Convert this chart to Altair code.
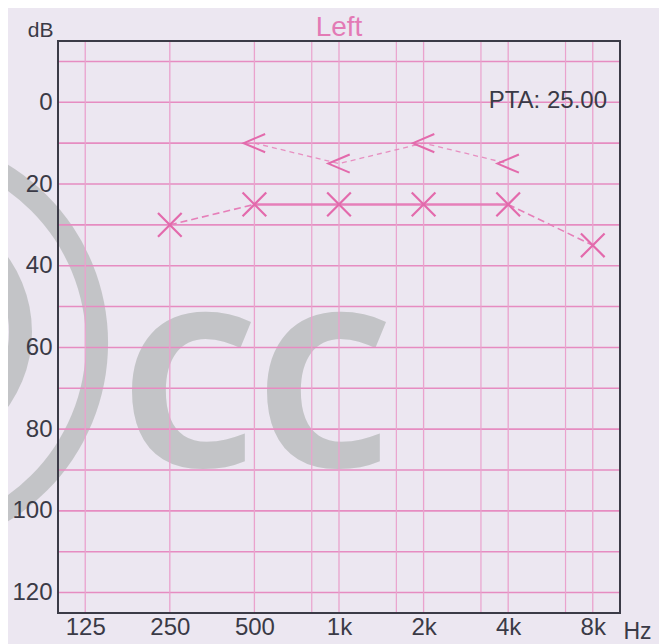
import altair as alt
import pandas as pd

# ---------------- data ----------------
ac_freq = [250, 500, 1000, 2000, 4000, 8000]          # air conduction (X)
ac_db = [30, 25, 25, 25, 25, 35]
ac_seg_style = ["dashed", "solid", "solid", "solid", "dashed"]
bc_freq = [500, 1000, 2000, 4000]                     # bone conduction (<)
bc_db = [10, 15, 10, 15]
pta_value = 25.00
ear_title = "Left"

x_tick_vals = [125, 250, 500, 1000, 2000, 4000, 8000]
x_tick_labels = ["125", "250", "500", "1k", "2k", "4k", "8k"]
x_minor_vals = [800, 1600, 3200, 6400]
y_tick_vals = [0, 20, 40, 60, 80, 100, 120]
y_grid_vals = [-10, 0, 10, 20, 30, 40, 50, 60, 70, 80, 90, 100, 110, 120]

# ---------------- styling ----------------
PINK = "#e36aac"
PINK_LINE = "#e67fb9"
GRID_H = "#e68cc1"
GRID_V = "#eaa2cd"
TEXT = "#3a3a46"
FONT = "Liberation Sans"
W, H = 562, 572

xscale = alt.Scale(type="log", domain=[100, 10000])
yscale = alt.Scale(domain=[-15, 125], reverse=True)

label_expr = " : ".join(
    f"datum.value == {v} ? '{l}'" for v, l in zip(x_tick_vals, x_tick_labels)
) + " : ''"

xaxis = alt.Axis(values=x_tick_vals, labelExpr=label_expr, domain=False, ticks=False,
                 grid=False, labelFontSize=24, labelFont=FONT, labelColor=TEXT,
                 labelPadding=2, labelOverlap=False, labelFlush=False,
                 title="Hz", titleX=565, titleY=25, titleAlign="left",
                 titleBaseline="alphabetic", titleFontSize=23, titleFont=FONT,
                 titleFontWeight="normal", titleColor=TEXT, zindex=1)
yaxis = alt.Axis(values=y_tick_vals, domain=False, ticks=False, grid=False,
                 labelFontSize=24, labelFont=FONT, labelColor=TEXT, labelPadding=6,
                 title="dB", titleAngle=0, titleX=-5, titleY=-5, titleAlign="right",
                 titleBaseline="alphabetic", titleFontSize=21, titleFont=FONT,
                 titleFontWeight="normal", titleColor=TEXT, zindex=1)


def X(field):
    return alt.X(field, scale=xscale, axis=xaxis)


def Y(field):
    return alt.Y(field, scale=yscale, axis=yaxis)


one = pd.DataFrame({"k": [0]})

# ---------------- watermark (decoration) ----------------
wm_color = "#b9bcbd"
ring_outer = alt.Chart(one).mark_arc(radius=209, radius2=187, theta=0, theta2=6.2832,
                                     color=wm_color, opacity=0.8).encode(
    x=alt.value(-159), y=alt.value(302))
ring_inner = alt.Chart(one).mark_arc(radius=129, radius2=106, theta=0, theta2=6.2832,
                                     color=wm_color, opacity=0.8).encode(
    x=alt.value(-155), y=alt.value(291))
c1 = alt.Chart(one).mark_text(text="C", font="Noto Sans", fontWeight="bold", fontSize=214,
                              color=wm_color, opacity=0.8, align="center",
                              baseline="alphabetic").encode(x=alt.value(131), y=alt.value(426))
c2 = alt.Chart(one).mark_text(text="C", font="Noto Sans", fontWeight="bold", fontSize=214,
                              color=wm_color, opacity=0.8, align="center",
                              baseline="alphabetic").encode(x=alt.value(266), y=alt.value(426))

# ---------------- grid ----------------
hgrid = alt.Chart(pd.DataFrame({"db": y_grid_vals})).mark_rule(
    color=GRID_H, strokeWidth=1.6).encode(y=Y("db:Q"))
vgrid = alt.Chart(pd.DataFrame({"f": x_tick_vals})).mark_rule(
    color=GRID_V, strokeWidth=1.3).encode(x=X("f:Q"))
vgrid_minor = alt.Chart(pd.DataFrame({"f": x_minor_vals})).mark_rule(
    color=GRID_V, strokeWidth=1.2).encode(x=X("f:Q"))

# ---------------- air conduction ----------------
seg = pd.DataFrame({
    "f": ac_freq[:-1], "f2": ac_freq[1:],
    "db": ac_db[:-1], "db2": ac_db[1:],
    "style": ac_seg_style,
})
seg_base = alt.Chart(seg).encode(x=X("f:Q"), x2="f2:Q", y=Y("db:Q"), y2="db2:Q")
ac_solid = seg_base.mark_rule(color=PINK_LINE, strokeWidth=2.4).transform_filter(
    alt.datum.style == "solid")
ac_dashed = seg_base.mark_rule(color=PINK_LINE, strokeWidth=1.6,
                               strokeDash=[7, 4]).transform_filter(
    alt.datum.style == "dashed")

cross_path = "M-1,-1L1,1M-1,1L1,-1"
ac_pts = alt.Chart(pd.DataFrame({"f": ac_freq, "db": ac_db})).mark_point(
    shape=cross_path, size=560, filled=False, strokeWidth=2.2, color=PINK, opacity=1
).encode(x=X("f:Q"), y=Y("db:Q"))

# ---------------- bone conduction ----------------
bc_df = pd.DataFrame({"f": bc_freq, "db": bc_db})
bc_line = alt.Chart(bc_df).mark_line(color=PINK_LINE, strokeWidth=1.3, strokeDash=[5, 4],
                                     opacity=0.85).encode(x=X("f:Q"), y=Y("db:Q"))
lt_path = "M1,-0.85L-1,0L1,0.85"
bc_pts = alt.Chart(bc_df).mark_point(
    shape=lt_path, size=460, filled=False, strokeWidth=2.0, color=PINK, opacity=1
).encode(x=X("f:Q"), y=Y("db:Q"))

# ---------------- annotations ----------------
pta = alt.Chart(pd.DataFrame({"t": [f"PTA: {pta_value:.2f}"]})).mark_text(
    align="right", baseline="middle", fontSize=24, font=FONT, color=TEXT
).encode(text="t:N", x=alt.value(549), y=alt.value(60))

title_txt = alt.Chart(pd.DataFrame({"t": [ear_title]})).mark_text(
    align="center", baseline="alphabetic", fontSize=28, font=FONT, color="#e37ab5"
).encode(text="t:N", x=alt.value(W / 2), y=alt.value(-5))

frame = alt.Chart(one).mark_rect(fillOpacity=0, stroke="#3b3b47", strokeWidth=2).encode(
    x=alt.value(0), x2=alt.value(W), y=alt.value(0), y2=alt.value(H))

chart = alt.layer(
    ring_outer, ring_inner, c1, c2,
    hgrid, vgrid, vgrid_minor,
    ac_dashed, ac_solid, bc_line, ac_pts, bc_pts, pta, title_txt, frame,
).properties(
    width=W, height=H,
    padding={"left": 50, "top": 33, "right": 39, "bottom": 31},
    autosize=alt.AutoSizeParams(type="none"),
    background="#ece7f1",
).configure_view(stroke=None)

chart.save("out.html", embed_options={"renderer": "svg", "actions": False})
